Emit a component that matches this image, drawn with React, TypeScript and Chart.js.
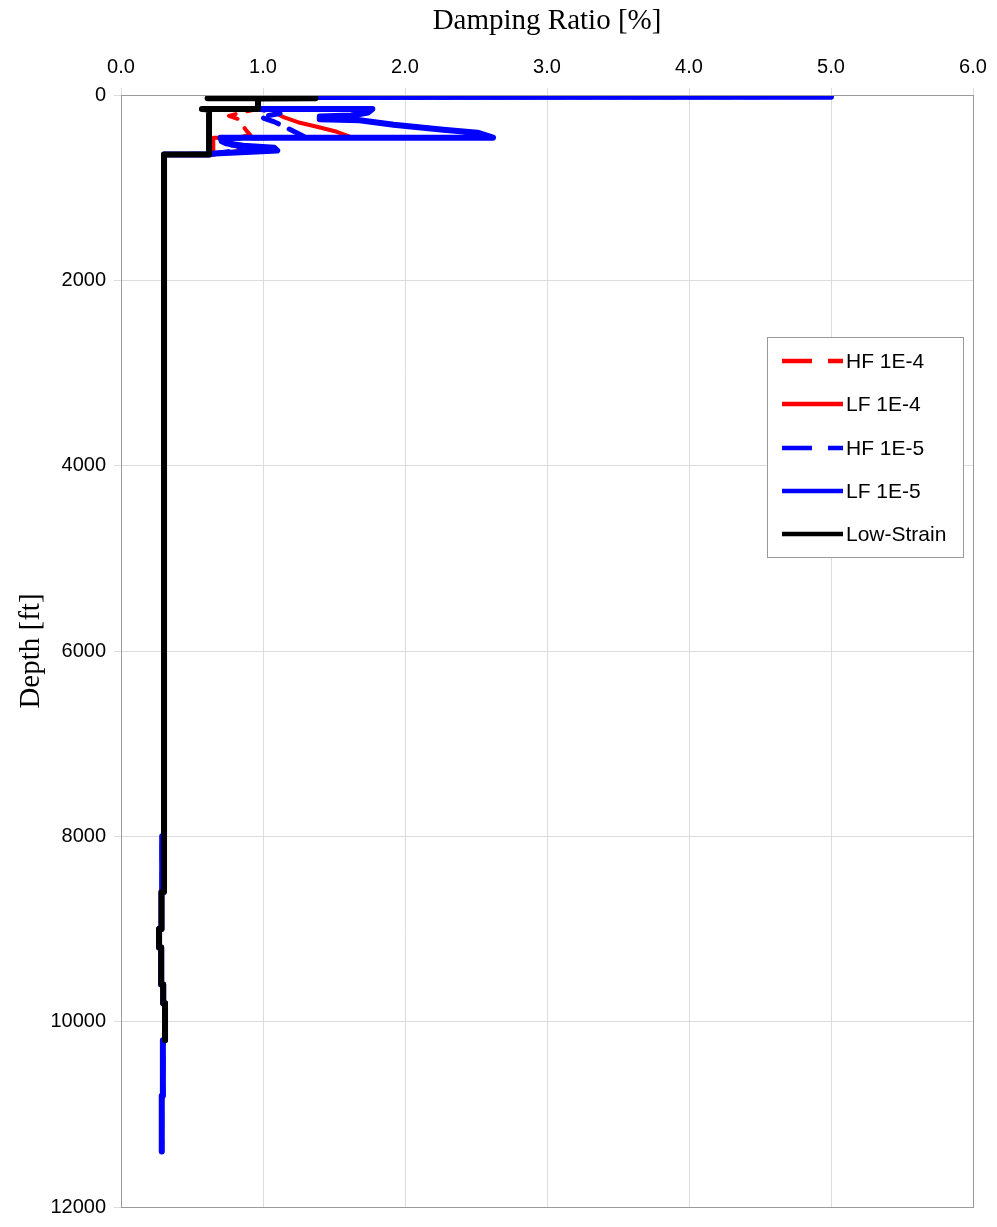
import React, { useEffect, useRef } from "react";
import { Chart, registerables } from "chart.js";

Chart.register(...registerables);

// ---- Data (damping ratio [%] vs depth [ft]) ----
const xTickValues = [0, 1, 2, 3, 4, 5, 6];
const yTickValues = [0, 2000, 4000, 6000, 8000, 10000, 12000];

const hf4Damping = [1.9, 0.965, 0.965, 0.86, 0.76, 0.83, 0.88, 0.91, 0.8, 0.75, 0.87, 0.66, 0.303, 0.303, 0.29, 0.29, 0.285, 0.285, 0.268, 0.268, 0.283, 0.283, 0.297, 0.297, 0.31, 0.31, 0.295, 0.295, 0.287, 0.287];
const hf4Depth = [12, 18, 150, 185, 225, 262, 380, 430, 470, 510, 595, 640, 643, 8000, 8000, 8600, 8600, 9000, 9000, 9200, 9200, 9600, 9600, 9800, 9800, 10200, 10200, 10800, 10800, 11400];

const lf4Damping = [2.07, 0.965, 0.965, 1.1, 1.08, 1.14, 1.26, 1.38, 1.52, 1.61, 1.64, 0.65, 0.65, 0.66, 0.303, 0.303, 0.29, 0.29, 0.285, 0.285, 0.268, 0.268, 0.283, 0.283, 0.297, 0.297, 0.31, 0.31, 0.295, 0.295, 0.287, 0.287];
const lf4Depth = [12, 20, 150, 158, 185, 236, 300, 343, 397, 450, 461, 461, 600, 643, 643, 8000, 8000, 8600, 8600, 9000, 9000, 9200, 9200, 9600, 9600, 9800, 9800, 10200, 10200, 10800, 10800, 11400];

const hf5Damping = [4.5, 0.965, 0.965, 1.12, 0.98, 1.08, 1.24, 1.3, 0.72, 0.74, 0.86, 0.8, 0.64, 0.303, 0.303, 0.29, 0.29, 0.285, 0.285, 0.268, 0.268, 0.283, 0.283, 0.297, 0.297, 0.31, 0.31, 0.295, 0.295, 0.287, 0.287];
const hf5Depth = [18, 22, 150, 200, 236, 290, 410, 455, 470, 530, 560, 600, 638, 643, 8000, 8000, 8600, 8600, 9000, 9000, 9200, 9200, 9600, 9600, 9800, 9800, 10200, 10200, 10800, 10800, 11400];

const lf5Damping = [5.0, 0.965, 0.965, 1.77, 1.74, 1.62, 1.4, 1.4, 1.68, 1.92, 2.27, 2.51, 2.62, 0.7, 0.71, 0.74, 0.86, 1.08, 1.1, 0.66, 0.62, 0.303, 0.303, 0.29, 0.29, 0.285, 0.285, 0.268, 0.268, 0.283, 0.283, 0.297, 0.297, 0.31, 0.31, 0.295, 0.295, 0.287, 0.287];
const lf5Depth = [20, 22, 150, 150, 190, 222, 232, 262, 272, 322, 375, 407, 461, 461, 500, 520, 548, 570, 600, 630, 643, 643, 8000, 8000, 8600, 8600, 9000, 9000, 9200, 9200, 9600, 9600, 9800, 9800, 10200, 10200, 10800, 10800, 11400];

const lowDamping = [0.61, 1.37, 0.965, 0.965, 0.57, 0.62, 0.62, 0.303, 0.303, 0.285, 0.285, 0.268, 0.268, 0.283, 0.283, 0.297, 0.297, 0.31, 0.31];
const lowDepth = [35, 35, 37, 150, 150, 156, 643, 643, 8600, 8600, 9000, 9000, 9200, 9200, 9600, 9600, 9800, 9800, 10200];

const seriesNames = ["HF 1E-4", "LF 1E-4", "HF 1E-5", "LF 1E-5", "Low-Strain"];
const seriesColors = ["#ff0000", "#ff0000", "#0000ff", "#0000ff", "#000000"];

const toPoints = (xs: number[], ys: number[]) => xs.map((x, i) => ({ x, y: ys[i] }));

export default function App() {
  const canvasRef = useRef<HTMLCanvasElement | null>(null);

  useEffect(() => {
    const canvas = canvasRef.current;
    if (!canvas) return;

    const dashes: number[][] = [[16, 12], [], [16, 12], [], []];
    const widths = [4, 4, 5, 6, 6];

    const mk = (i: number, xs: number[], ys: number[], order: number) => ({
      label: seriesNames[i],
      data: toPoints(xs, ys),
      borderColor: seriesColors[i],
      backgroundColor: seriesColors[i],
      borderWidth: widths[i],
      borderDash: dashes[i],
      borderCapStyle: "round" as const,
      borderJoinStyle: "round" as const,
      showLine: true,
      pointRadius: 0,
      pointHoverRadius: 0,
      tension: 0,
      fill: false,
      order,
    });

    const legendPlugin = {
      id: "customLegendAndTitles",
      afterDraw(chart: any) {
        const ctx = chart.ctx as CanvasRenderingContext2D;
        const area = chart.chartArea;
        ctx.save();
        // plot border
        ctx.strokeStyle = "#9a9a9a";
        ctx.lineWidth = 1;
        ctx.strokeRect(Math.round(area.left) + 0.5, Math.round(area.top) + 0.5, Math.round(area.right - area.left), Math.round(area.bottom - area.top));

        // titles
        ctx.fillStyle = "#000";
        ctx.font = '29px "Liberation Serif", "Times New Roman", serif';
        ctx.textAlign = "center";
        ctx.textBaseline = "middle";
        ctx.fillText("Damping Ratio [%]", (area.left + area.right) / 2, 21);
        ctx.save();
        ctx.translate(31, (area.top + area.bottom) / 2);
        ctx.rotate(-Math.PI / 2);
        ctx.fillText("Depth [ft]", 0, 0);
        ctx.restore();

        // legend box
        const bx = 767, by = 337, bw = 196, bh = 220;
        ctx.fillStyle = "#ffffff";
        ctx.fillRect(bx, by, bw, bh);
        ctx.strokeStyle = "#9a9a9a";
        ctx.lineWidth = 1;
        ctx.strokeRect(bx + 0.5, by + 0.5, bw, bh);
        const rowsY = [361, 404, 448, 491, 534];
        const legendDash = [[30, 16], [], [30, 16], [], []];
        ctx.font = '21px "Liberation Sans", Arial, sans-serif';
        ctx.textAlign = "left";
        ctx.textBaseline = "middle";
        for (let i = 0; i < seriesNames.length; i++) {
          ctx.beginPath();
          ctx.setLineDash(legendDash[i]);
          ctx.strokeStyle = seriesColors[i];
          ctx.lineWidth = 4.5;
          ctx.lineCap = "butt";
          ctx.moveTo(782, rowsY[i]);
          ctx.lineTo(843, rowsY[i]);
          ctx.stroke();
          ctx.setLineDash([]);
          ctx.fillStyle = "#000";
          ctx.fillText(seriesNames[i], 846, rowsY[i] + 1);
        }
        ctx.restore();
      },
    };

    const chart = new Chart(canvas, {
      type: "scatter",
      data: {
        datasets: [
          mk(4, lowDamping, lowDepth, 0),
          mk(3, lf5Damping, lf5Depth, 1),
          mk(2, hf5Damping, hf5Depth, 2),
          mk(1, lf4Damping, lf4Depth, 3),
          mk(0, hf4Damping, hf4Depth, 4),
        ] as any,
      },
      options: {
        animation: false,
        responsive: false,
        devicePixelRatio: 1,
        layout: { padding: { left: 0, top: 0, right: 24, bottom: 13 } },
        plugins: {
          legend: { display: false },
          tooltip: { enabled: false },
          title: { display: false },
        },
        scales: {
          x: {
            type: "linear",
            position: "top",
            min: 0,
            max: 6,
            afterFit: (s: any) => {
              s.height = 95;
            },
            afterBuildTicks: (s: any) => {
              s.ticks = xTickValues.map((v) => ({ value: v }));
            },
            ticks: {
              callback: (v: any) => Number(v).toFixed(1),
              font: { family: '"Liberation Sans", Arial, sans-serif', size: 20 },
              color: "#000",
              padding: 9,
              maxRotation: 0,
            },
            grid: { color: "#dcdcdc", lineWidth: 1, tickLength: 7, drawTicks: true },
            border: { color: "#8a8a8a", width: 1 },
          },
          y: {
            type: "linear",
            reverse: true,
            min: 0,
            max: 12000,
            afterFit: (s: any) => {
              s.width = 121;
            },
            afterBuildTicks: (s: any) => {
              s.ticks = yTickValues.map((v) => ({ value: v }));
            },
            ticks: {
              callback: (v: any) => String(v),
              font: { family: '"Liberation Sans", Arial, sans-serif', size: 20 },
              color: "#000",
              padding: 8,
            },
            grid: { color: "#dcdcdc", lineWidth: 1, tickLength: 7, drawTicks: true },
            border: { color: "#8a8a8a", width: 1 },
          },
        },
      },
      plugins: [legendPlugin],
    });

    return () => {
      chart.destroy();
    };
  }, []);

  return (
    <div style={{ position: "absolute", left: 0, top: 0, width: 997, height: 1227, background: "#fff" }}>
      <canvas ref={canvasRef} width={997} height={1227} style={{ display: "block", width: 997, height: 1227 }} />
    </div>
  );
}
